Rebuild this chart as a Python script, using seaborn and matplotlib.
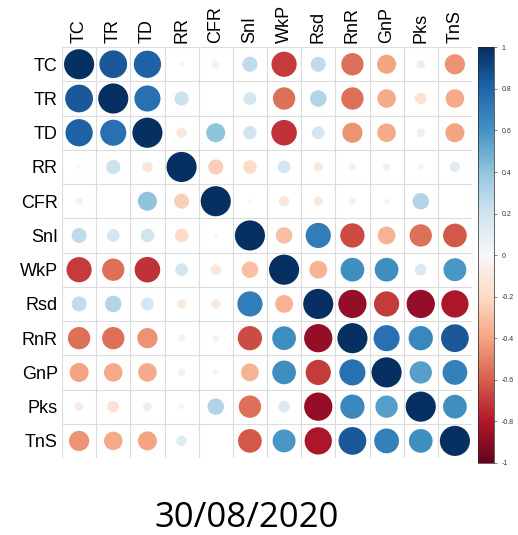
import numpy as np
import pandas as pd
import seaborn as sns
import matplotlib.pyplot as plt
from matplotlib.cm import ScalarMappable
from matplotlib.colors import Normalize

# variable names (same order on both axes)
labels = ['TC', 'TR', 'TD', 'RR', 'CFR', 'SnI', 'WkP', 'Rsd', 'RnR', 'GnP', 'Pks', 'TnS']

# correlation rows
tc  = [1.00, 0.85, 0.82, 0.02, 0.06, 0.25, -0.70, 0.25, -0.55, -0.40, -0.08, -0.45]
tr  = [0.85, 1.00, 0.75, 0.22, 0.00, 0.18, -0.55, 0.30, -0.55, -0.38, -0.15, -0.38]
td  = [0.82, 0.75, 1.00, -0.12, 0.40, 0.20, -0.72, 0.18, -0.45, -0.38, 0.08, -0.40]
rr  = [0.02, 0.22, -0.12, 1.00, -0.25, -0.20, 0.18, -0.10, 0.05, 0.06, 0.03, 0.12]
cfr = [0.06, 0.00, 0.40, -0.25, 1.00, 0.02, -0.12, -0.10, 0.05, 0.03, 0.30, 0.00]
sni = [0.25, 0.18, 0.20, -0.20, 0.02, 1.00, -0.30, 0.70, -0.65, -0.35, -0.55, -0.62]
wkp = [-0.70, -0.55, -0.72, 0.18, -0.12, -0.30, 1.00, -0.35, 0.62, 0.62, 0.15, 0.58]
rsd = [0.25, 0.30, 0.18, -0.10, -0.10, 0.70, -0.35, 1.00, -0.88, -0.70, -0.88, -0.82]
rnr = [-0.55, -0.55, -0.45, 0.05, 0.05, -0.65, 0.62, -0.88, 1.00, 0.75, 0.65, 0.85]
gnp = [-0.40, -0.38, -0.38, 0.06, 0.03, -0.35, 0.62, -0.70, 0.75, 1.00, 0.55, 0.68]
pks = [-0.08, -0.15, 0.08, 0.03, 0.30, -0.55, 0.15, -0.88, 0.65, 0.55, 1.00, 0.62]
tns = [-0.45, -0.38, -0.40, 0.12, 0.00, -0.62, 0.58, -0.82, 0.85, 0.68, 0.62, 1.00]

title = '30/08/2020'
cbar_ticks = [1, 0.8, 0.6, 0.4, 0.2, 0, -0.2, -0.4, -0.6, -0.8, -1]

corr = pd.DataFrame([tc, tr, td, rr, cfr, sni, wkp, rsd, rnr, gnp, pks, tns],
                    index=labels, columns=labels)

# long format for scatterplot
long_df = corr.stack().reset_index()
long_df.columns = ['row', 'col', 'r']
long_df['x'] = long_df['col'].map({k: i for i, k in enumerate(labels)})
long_df['y'] = long_df['row'].map({k: i for i, k in enumerate(labels)})
long_df['size'] = long_df['r'].abs()

sns.set_style('white')
plt.rcParams['font.family'] = ['Liberation Sans', 'DejaVu Sans']
plt.rcParams['text.color'] = 'black'

fig = plt.figure(figsize=(5.18, 5.35), dpi=100)
ax = fig.add_axes([0.1197, 0.1439, 0.7915, 0.768])

sns.scatterplot(data=long_df, x='x', y='y', hue='r', size='size',
                palette='RdBu', hue_norm=(-1, 1),
                sizes=(0, 470), size_norm=(0, 1),
                linewidth=0, legend=False, ax=ax)

n = len(labels)
# cell grid
for k in range(n + 1):
    ax.axhline(k - 0.5, color='#dcdcdc', lw=0.8, zorder=0)
    ax.axvline(k - 0.5, color='#dcdcdc', lw=0.8, zorder=0)

ax.set_xlim(-0.5, n - 0.5)
ax.set_ylim(n - 0.5, -0.5)
ax.set_xticks(range(n))
ax.set_yticks(range(n))
ax.set_xticklabels(labels, rotation=90, fontsize=13)
ax.set_yticklabels(labels, fontsize=13)
ax.xaxis.tick_top()
ax.tick_params(length=0, pad=3, labelcolor='black')
ax.set_xlabel('')
ax.set_ylabel('')
for s in ax.spines.values():
    s.set_visible(False)

# colour bar
cax = fig.add_axes([0.923, 0.1346, 0.031, 0.777])
sm = ScalarMappable(norm=Normalize(-1, 1), cmap='RdBu')
cb = fig.colorbar(sm, cax=cax)
cb.set_ticks(cbar_ticks)
cb.set_ticklabels([('%g' % t) for t in cbar_ticks])
cb.ax.tick_params(labelsize=5, length=2, width=0.5, color='#555555',
                  labelcolor='#333333')
cb.outline.set_linewidth(0.5)

fig.text(0.477, 0.015, title, ha='center', va='baseline', color='black',
         fontsize=25, family=['Open Sans', 'DejaVu Sans'])

fig.savefig('out.png', dpi=100)
